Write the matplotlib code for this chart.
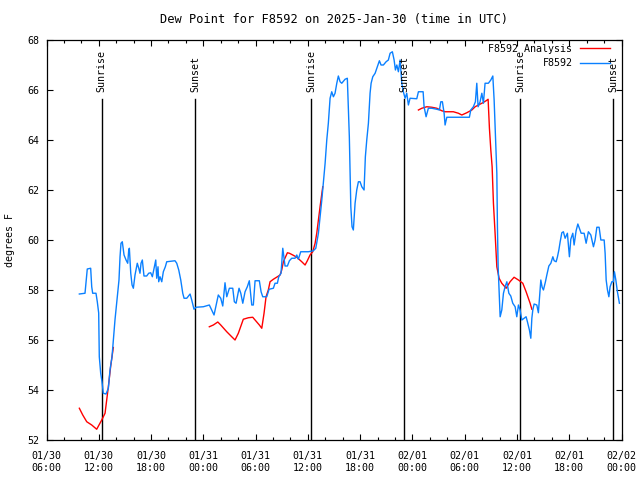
# Dew point chart for station F8592, observations vs analysis

import matplotlib
matplotlib.use("Agg")
import matplotlib.pyplot as plt
import matplotlib.dates as mdates
import numpy as np
import pandas as pd

START = pd.Timestamp("2025-01-30 06:00")
END = pd.Timestamp("2025-02-02 00:00")

# hours after 01/30 06:00 UTC, and dew point in degrees F
obs_hours = [3.77, 4.42, 4.68, 5.07, 5.19, 5.30, 5.68, 5.83, 5.99, 6.06, 6.22, 6.37,
             6.52, 6.83, 7.10, 7.29, 7.52, 7.67, 7.86, 8.13, 8.32, 8.44, 8.55, 8.70,
             8.90, 9.13, 9.32, 9.44, 9.51, 9.67, 9.82, 9.97, 10.16, 10.42, 10.59, 10.73,
             10.85, 11.00, 11.19, 11.50, 11.73, 11.96, 12.15, 12.38, 12.54, 12.65, 12.80,
             12.88, 13.03, 13.23, 13.41, 13.64, 13.80, 14.75, 14.95, 15.18, 15.41, 15.64,
             15.79, 16.10, 16.48, 16.67, 16.93, 17.16, 18.00, 18.69, 19.23, 19.72, 20.00,
             20.23, 20.49, 20.69, 20.99, 21.38, 21.56, 21.76, 22.10, 22.30, 22.53, 22.79,
             23.05, 23.28, 23.56, 23.74, 23.94, 24.43, 24.63, 24.82, 25.28, 25.55, 26.04,
             26.23, 26.50, 26.66, 26.92, 27.12, 27.38, 27.65, 27.88, 28.15, 28.53, 28.73,
             28.91, 29.18, 30.06, 30.63, 30.91, 31.21, 31.60, 31.98, 32.17, 32.35, 32.55,
             32.74, 32.93, 33.12, 33.32, 33.50, 33.70, 33.89, 34.27, 34.53, 34.76, 34.93,
             35.07, 35.22, 35.42, 35.61, 35.80, 35.99, 36.19, 36.45, 36.60, 36.76, 36.95,
             37.14, 37.26, 37.45, 37.72, 37.98, 38.21, 38.40, 38.67, 38.98, 39.24, 39.44,
             39.70, 39.90, 40.05, 40.21, 40.39, 40.59, 40.78, 40.96, 41.16, 41.35, 41.54,
             41.73, 42.50, 42.69, 43.23, 43.34, 43.57, 43.83, 44.22, 44.80, 45.10, 45.26,
             45.44, 45.64, 45.75, 45.95, 48.54, 48.70, 49.00, 49.23, 49.39, 49.54, 49.77,
             49.97, 50.15, 50.34, 50.72, 51.00, 51.23, 51.38, 51.53, 51.69, 51.76, 51.84,
             51.95, 52.07, 52.26, 52.45, 52.64, 52.84, 53.07, 53.29, 53.52, 53.79, 53.98,
             54.17, 54.36, 54.56, 54.82, 55.05, 55.20, 55.43, 55.59, 55.71, 55.82, 55.97,
             56.28, 56.46, 56.58, 56.74, 56.89, 57.04, 57.27, 57.43, 57.66, 57.89, 58.12,
             58.27, 58.50, 58.65, 58.81, 58.96, 59.15, 59.33, 59.53, 59.79, 60.02, 60.18,
             60.41, 60.56, 60.79, 60.99, 61.17, 61.37, 61.71, 61.94, 62.20, 62.48, 62.78,
             62.97, 63.17, 63.43, 63.63, 64.01, 64.12, 64.24, 64.39, 64.55, 64.69, 64.89,
             65.07, 65.19, 65.35, 65.53, 65.76]
obs_dewpt = [57.84, 57.87, 58.84, 58.87, 58.13, 57.87, 57.87, 57.53, 57.08, 55.33, 54.67, 54.33,
             53.87, 53.84, 54.07, 54.80, 55.33, 56.00, 56.80, 57.73, 58.40, 59.33, 59.87, 59.93,
             59.40, 59.20, 59.07, 59.60, 59.67, 58.67, 58.20, 58.07, 58.60, 59.07, 58.87, 58.67,
             59.07, 59.20, 58.56, 58.56, 58.67, 58.69, 58.53, 58.93, 59.20, 58.47, 58.93,
             58.33, 58.53, 58.33, 58.73, 58.93, 59.13, 59.17, 59.07, 58.80, 58.40, 57.87,
             57.67, 57.67, 57.84, 57.60, 57.23, 57.31, 57.33, 57.40, 57.00, 57.80, 57.67,
             57.36, 58.29, 57.73, 58.07, 58.07, 57.53, 57.47, 58.07, 57.87, 57.47, 57.93,
             58.13, 58.37, 57.40, 57.40, 58.37, 58.37, 57.93, 57.73, 57.73, 58.03, 58.07,
             58.27, 58.27, 58.53, 58.67, 59.67, 58.96, 58.96, 59.17, 59.27, 59.27, 59.40,
             59.23, 59.53, 59.53, 59.57, 59.67, 60.27, 61.60, 63.07, 64.00, 64.67, 65.67,
             65.93, 65.73, 65.87, 66.27, 66.56, 66.33, 66.27, 66.43, 66.47, 64.13, 61.33,
             60.53, 60.40, 61.47, 62.00, 62.33, 62.33, 62.13, 62.00, 63.33, 64.00, 64.67,
             65.87, 66.27, 66.53, 66.67, 66.93, 67.17, 67.00, 67.00, 67.13, 67.20, 67.47,
             67.53, 67.20, 66.80, 67.00, 66.73, 67.20, 66.27, 65.93, 65.67, 65.87, 65.40,
             65.67, 65.65, 65.93, 65.93, 65.33, 64.93, 65.27, 65.27, 65.23, 65.20, 65.53,
             65.53, 65.07, 64.60, 64.91, 64.91, 65.20, 65.33, 65.53, 66.27, 65.33, 65.53,
             65.87, 65.47, 66.27, 66.27, 66.40, 66.56, 65.60, 64.13, 62.67, 60.53, 58.93,
             58.00, 56.93, 57.20, 57.87, 58.13, 58.33, 57.87, 57.76, 57.47, 57.33, 56.93,
             57.40, 57.20, 56.80, 56.87, 56.93, 56.73, 56.40, 56.07, 56.87, 57.20, 57.44,
             57.40, 57.09, 57.67, 58.40, 58.11, 58.00, 58.33, 58.60, 58.96, 59.07, 59.33,
             59.17, 59.13, 59.33, 59.60, 59.93, 60.29, 60.33, 60.07, 60.27, 59.33, 60.03,
             60.27, 59.80, 60.37, 60.64, 60.47, 60.27, 60.27, 59.87, 60.33, 60.20, 59.73,
             60.00, 60.51, 60.51, 60.00, 60.00, 59.47, 58.40, 58.00, 57.73, 58.13, 58.33,
             58.33, 58.73, 58.40, 57.93, 57.47]

# analysis series, nan marks the gaps
ana_hours = [3.77, 4.16, 4.62, 5.19, 5.76, 6.34, 6.72, 6.91, 7.10, 7.37, 7.67, 12.0,
             18.69, 19.15, 19.66, 20.00, 20.69, 21.26, 21.64, 22.02, 22.59, 23.17, 23.67,
             23.94, 24.43, 24.71, 24.97, 25.20, 25.46, 25.66, 26.04, 26.50, 26.81, 27.00,
             27.19, 27.65, 27.88, 28.27, 28.73, 29.30, 29.68, 29.94, 30.25, 30.56, 30.83,
             31.02, 31.40, 31.71, 37.0,
             42.69, 43.08, 43.65, 44.22, 44.80, 45.37, 45.75, 46.70, 47.28, 47.67, 48.24,
             48.82, 49.20, 49.58, 50.08, 50.46, 50.69, 50.84, 51.00, 51.15, 51.30, 51.49,
             51.69, 51.95, 52.26, 52.76, 53.21, 53.67, 54.17, 54.67, 55.05, 55.51, 55.71]
ana_dewpt = [53.27, 53.00, 52.73, 52.60, 52.43, 52.80, 53.07, 53.60, 54.13, 54.96, 55.70, np.nan,
             56.53, 56.60, 56.72, 56.60, 56.33, 56.13, 56.00, 56.27, 56.83, 56.89, 56.91,
             56.80, 56.60, 56.47, 57.07, 57.73, 58.00, 58.33, 58.43, 58.53, 58.60, 58.80,
             59.13, 59.49, 59.47, 59.40, 59.31, 59.13, 59.00, 59.17, 59.40, 59.53, 59.87,
             60.27, 61.33, 62.13, np.nan,
             65.20, 65.27, 65.33, 65.31, 65.27, 65.17, 65.13, 65.13, 65.07, 65.00, 65.09,
             65.20, 65.33, 65.40, 65.49, 65.57, 65.63, 64.47, 63.60, 62.93, 61.47, 60.27,
             58.93, 58.47, 58.27, 58.07, 58.33, 58.51, 58.40, 58.27, 57.93, 57.47, 57.23]

sun_labels = ["Sunrise", "Sunset", "Sunrise", "Sunset", "Sunrise", "Sunset"]
sun_hours = [6.32, 17.08, 30.40, 41.08, 54.40, 65.07]


def to_time(hours):
    return START + pd.to_timedelta(hours, unit="h")


plt.rcParams["font.family"] = "DejaVu Sans Mono"
plt.rcParams["font.size"] = 7.2

fig = plt.figure(figsize=(6.4, 4.8), dpi=100)
ax = fig.add_axes([46.5 / 640, 40 / 480, 575 / 640, 400 / 480])

# sunrise / sunset markers
for name, h in zip(sun_labels, sun_hours):
    t = to_time(h)
    ax.plot([t, t], [52, 65.64], color="black", lw=1.0)
    ax.text(t, 65.92, name, rotation=90, ha="center", va="bottom")

ax.plot(to_time(ana_hours), ana_dewpt, color="#ff0000", lw=1.0, label="F8592 Analysis")
ax.plot(to_time(obs_hours), obs_dewpt, color="#0a80ff", lw=1.0, label="F8592")

ax.set_xlim(START, END)
ax.set_ylim(52, 68)
ax.set_yticks(np.arange(52, 69, 2))

ax.xaxis.set_major_locator(mdates.HourLocator(byhour=[0, 6, 12, 18]))
ax.xaxis.set_minor_locator(mdates.HourLocator(byhour=range(0, 24, 2)))
ax.xaxis.set_major_formatter(mdates.DateFormatter("%m/%d\n%H:%M"))
for lab in ax.get_xticklabels():
    lab.set_linespacing(1.25)

ax.tick_params(which="both", direction="in", top=True, right=True)
ax.tick_params(which="major", length=4.5, width=0.8)
ax.tick_params(axis="x", which="major", pad=8)
ax.tick_params(axis="y", which="major", pad=5)
ax.tick_params(which="minor", length=2.5, width=0.8)
for s in ax.spines.values():
    s.set_linewidth(0.9)

ax.set_ylabel("degrees F")
ax.yaxis.set_label_coords(-31.5 / 575, 0.5)
ax.set_title("Dew Point for F8592 on 2025-Jan-30 (time in UTC)", pad=12)

ax.legend(loc="upper right", bbox_to_anchor=(1 - 12 / 575, 1 - 4 / 400),
          frameon=False, markerfirst=False, handlelength=3.0,
          handletextpad=0.7, labelspacing=0.45, borderaxespad=0.0, borderpad=0.0)

fig.savefig("out.png", dpi=100)
